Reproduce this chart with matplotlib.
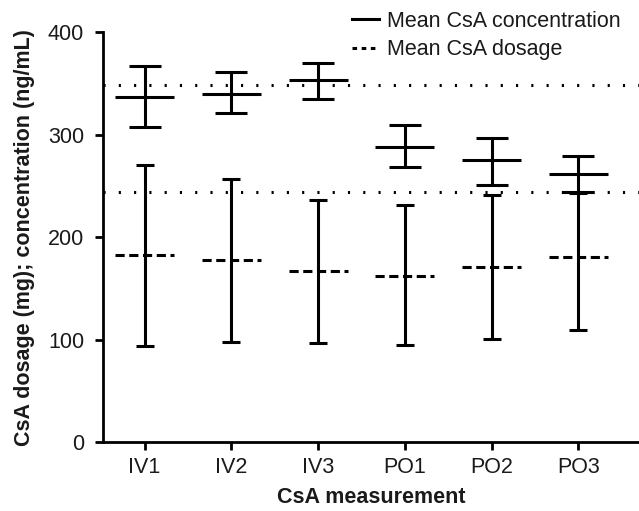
import matplotlib
matplotlib.use("Agg")
import matplotlib.pyplot as plt
from matplotlib.lines import Line2D
import numpy as np

plt.rcParams['font.family'] = ['Liberation Sans', 'DejaVu Sans']

categories = ["IV1", "IV2", "IV3", "PO1", "PO2", "PO3"]
conc_mean = [337, 340, 353, 288, 275, 262]
conc_low = [307, 321, 335, 268, 251, 244]
conc_high = [367, 361, 370, 309, 297, 279]
dose_mean = [183, 178, 167, 162, 171, 181]
dose_low = [94, 98, 97, 95, 101, 109]
dose_high = [270, 257, 236, 231, 241, 243]
ref_lines = [348, 244]
yticks = [0, 100, 200, 300, 400]

txt = '#1a1a1a'
fs = 15.5

fig = plt.figure(figsize=(6.39, 5.11), dpi=100)
ax = fig.add_axes([0.161, 0.135, 0.839, 0.802])

x = np.arange(len(categories))
hw = 0.34

for yv in ref_lines:
    ax.axhline(yv, color='black', lw=2.2, linestyle=(0, (0.7, 4.3)), zorder=1)

# concentration
ax.errorbar(x, conc_mean,
            yerr=[np.array(conc_mean) - np.array(conc_low), np.array(conc_high) - np.array(conc_mean)],
            fmt='none', ecolor='black', elinewidth=2.2, capsize=11.5, capthick=2.2, zorder=3)
ax.hlines(conc_mean, x - hw, x + hw, colors='black', lw=2.2, zorder=3)

# dosage
ax.errorbar(x, dose_mean,
            yerr=[np.array(dose_mean) - np.array(dose_low), np.array(dose_high) - np.array(dose_mean)],
            fmt='none', ecolor='black', elinewidth=2.2, capsize=6.2, capthick=2.2, zorder=3)
ax.hlines(dose_mean, x - hw, x + hw, colors='black', lw=2.2, linestyles=[(0, (3, 1.5))], zorder=3)

ax.set_xlim(-0.48, 5.7)
ax.set_ylim(0, 400)
ax.set_yticks(yticks)
ax.set_xticks(x)
ax.set_xticklabels(categories)
ax.tick_params(axis='both', direction='out', length=5.5, width=2, labelsize=fs,
               colors='black', labelcolor=txt)
ax.tick_params(axis='y', pad=8)
ax.tick_params(axis='x', pad=5)
for s in ['top', 'right']:
    ax.spines[s].set_visible(False)
for s in ['left', 'bottom']:
    ax.spines[s].set_linewidth(2)

ax.set_xlabel("CsA measurement", fontsize=fs, fontweight='bold', color=txt, labelpad=7)
ax.set_ylabel("CsA dosage (mg); concentration (ng/mL)", fontsize=fs, fontweight='bold',
              color=txt, labelpad=9)

handles = [Line2D([], [], color='black', lw=2.2, linestyle='-'),
           Line2D([], [], color='black', lw=2.2, linestyle=(0, (1.5, 1.5)))]
leg = fig.legend(handles, ["Mean CsA concentration", "Mean CsA dosage"],
                 loc='upper left', bbox_to_anchor=(0.551, 0.979), frameon=False,
                 borderpad=0, borderaxespad=0, prop={'size': fs},
                 handlelength=1.25, handletextpad=0.37, labelspacing=0.34)
for t in leg.get_texts():
    t.set_color(txt)

fig.savefig("out.png", dpi=100)
